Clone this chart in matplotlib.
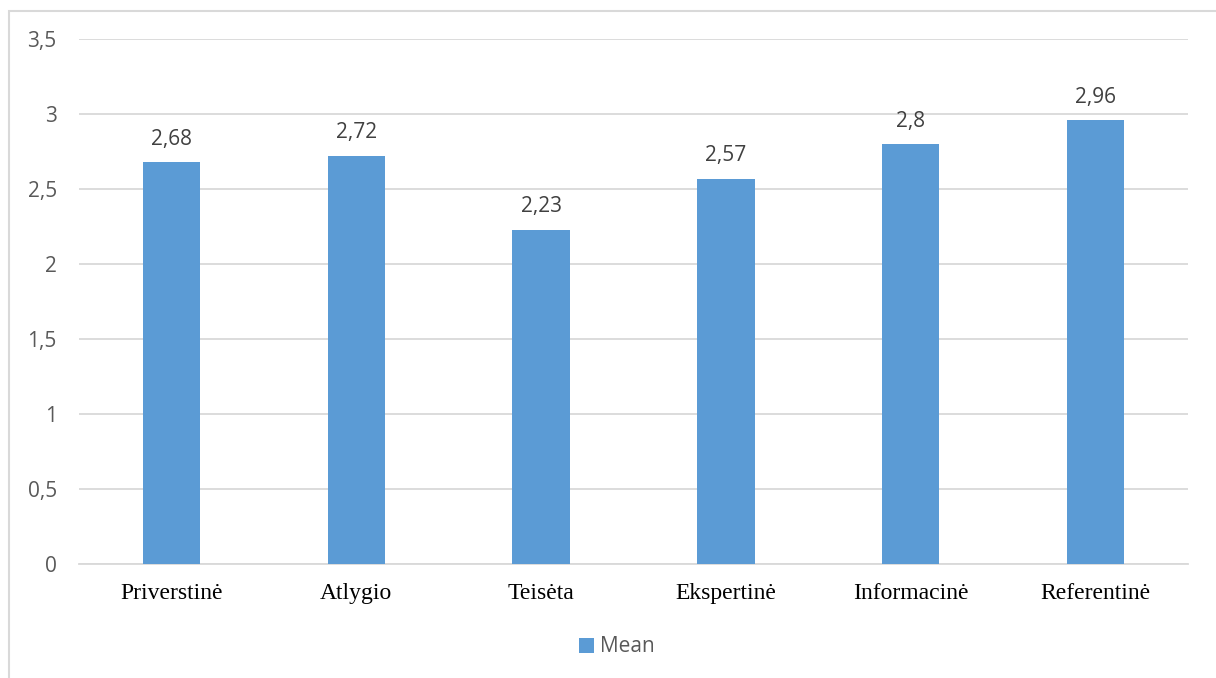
import matplotlib
matplotlib.use("Agg")
import matplotlib.pyplot as plt
from matplotlib.patches import Rectangle
from matplotlib.ticker import FuncFormatter, MultipleLocator

categories = ["Priverstinė", "Atlygio", "Teisėta", "Ekspertinė", "Informacinė", "Referentinė"]
mean_values = [2.68, 2.72, 2.23, 2.57, 2.80, 2.96]
series_name = "Mean"

W, H, DPI = 1216, 678, 100
fig = plt.figure(figsize=(W / DPI, H / DPI), dpi=DPI)
fig.patch.set_facecolor("white")

# outer chart frame (only top and left edges fall inside the image)
fig.add_artist(Rectangle((9 / W, -0.05), 1.2, (H - 11) / H + 0.05,
                         transform=fig.transFigure, fill=False,
                         edgecolor="#D9D9D9", linewidth=1.5))

ax = fig.add_axes([79 / W, (H - 564) / H, (1188 - 79) / W, (564 - 39) / H])

bar_color = "#5B9BD5"
x = range(len(categories))
bars = ax.bar(x, mean_values, width=0.31, color=bar_color, label=series_name, zorder=3)

ax.set_xlim(-0.5, len(categories) - 0.5)
ax.set_ylim(0, 3.5)
ax.yaxis.set_major_locator(MultipleLocator(0.5))
ax.yaxis.set_major_formatter(FuncFormatter(lambda v, p: f"{v:g}".replace(".", ",")))
ax.grid(axis="y", color="#D9D9D9", linewidth=1.3, zorder=0)
ax.set_axisbelow(True)

for s in ["top", "right", "left"]:
    ax.spines[s].set_visible(False)
ax.spines["bottom"].set_color("#D9D9D9")
ax.spines["bottom"].set_linewidth(1.3)

ax.tick_params(axis="y", length=0, pad=16, labelsize=15, labelcolor="#595959")
for t in ax.get_yticklabels():
    t.set_fontfamily("Open Sans")
ax.set_xticks(list(x))
ax.set_xticklabels(categories, fontfamily="Liberation Serif", fontsize=17, color="black")
ax.tick_params(axis="x", length=0, pad=14)

for rect, v in zip(bars, mean_values):
    ax.annotate(f"{v:g}".replace(".", ","), (rect.get_x() + rect.get_width() / 2, v),
                xytext=(0, 9), textcoords="offset points", ha="center", va="bottom",
                fontsize=15, fontfamily="Open Sans", color="#404040")

leg = fig.legend(handles=[bars], labels=[series_name], loc="center",
                 bbox_to_anchor=(617 / W, 1 - 647 / H), frameon=False,
                 prop={"family": "Open Sans", "size": 15}, handlelength=0.7,
                 handleheight=0.7, handletextpad=0.3)
for t in leg.get_texts():
    t.set_color("#595959")

fig.savefig("out.png", dpi=DPI, facecolor="white")
